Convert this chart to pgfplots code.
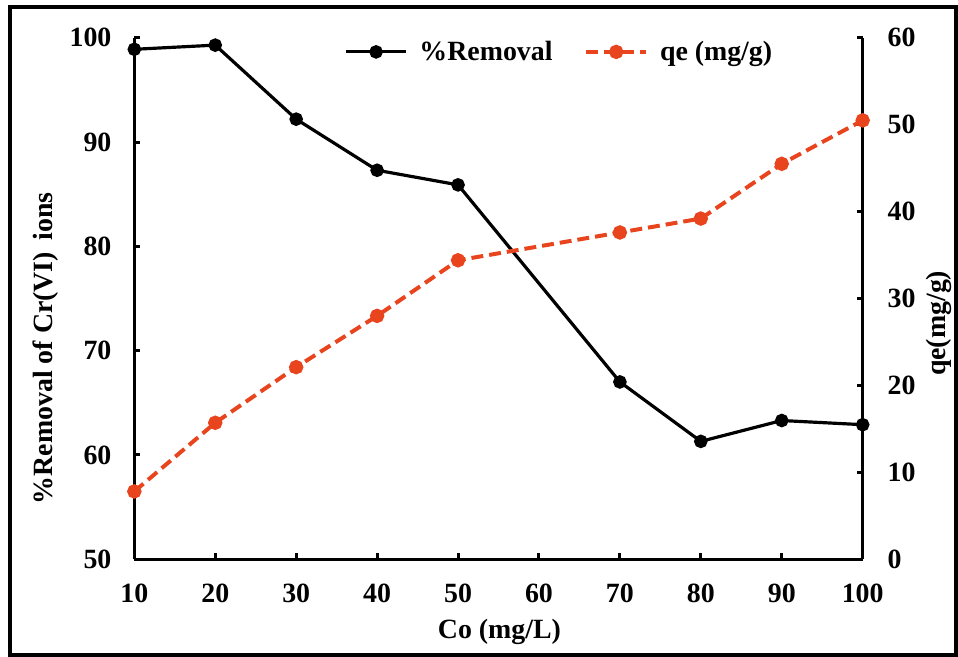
\documentclass[border=0pt]{standalone}
\usepackage{fontspec}
\setmainfont{Liberation Serif}
\usepackage{pgfplots}
\pgfplotsset{compat=1.18}
\definecolor{qecol}{RGB}{232,68,30}
\pgfplotstableread{
x rem
10 98.9
20 99.3
30 92.2
40 87.3
50 85.9
70 67.0
80 61.3
90 63.3
100 62.9
}\remtab
\pgfplotstableread{
x qe
10 7.8
20 15.7
30 22.1
40 28.0
50 34.4
70 37.6
80 39.2
90 45.5
100 50.5
}\qetab
\begin{document}
\begin{tikzpicture}
\pgfplotsset{
  common/.style={
    scale only axis, width=366pt, height=262pt,
    at={(0,0)}, anchor=south west,
    xmin=10, xmax=100,
    clip=false,
    tick align=inside, major tick length=3pt,
    axis line style={line width=1.5pt, -},
    every tick/.style={line width=1.5pt, black},
    tick label style={font=\fontsize{14}{16}\selectfont\bfseries},
    /pgf/number format/assume math mode=true,
  }
}
\begin{axis}[common,
  ymin=50, ymax=100,
  xtick={10,20,...,100}, ytick={50,60,...,100},
  axis y line*=left, axis x line*=bottom,
  xticklabel style={yshift=-9pt},
  yticklabel style={xshift=-8pt},
]
\addplot[black, line width=1.6pt, mark=*, mark size=2.6pt] table[x=x,y=rem] {\remtab};
\end{axis}
\begin{axis}[common,
  ymin=0, ymax=60, ytick={0,10,...,60},
  axis y line*=right, axis x line=none,
  yticklabel style={xshift=9pt},
  legend columns=2,
  legend style={at={(0.585,0.973)}, anchor=center, draw=none, fill=none,
    font=\fontsize{14}{16}\selectfont\bfseries,
    /tikz/every odd column/.append style={column sep=4pt},
    /tikz/every even column/.append style={column sep=14pt}},
  legend image code/.code={\draw[#1, mark repeat=2, mark phase=2] plot coordinates {(0pt,0pt) (15pt,0pt) (30pt,0pt)};},
]
\addlegendimage{black, line width=1.6pt, mark=*, mark size=2.6pt}
\addlegendentry{\%Removal}
\addplot[qecol, line width=2pt, dash pattern=on 6pt off 3pt, mark=*, mark size=2.6pt, mark options={solid}] table[x=x,y=qe] {\qetab};
\addlegendentry{qe (mg/g)}
\end{axis}
\node[font=\fontsize{14}{16}\selectfont\bfseries] at (183.5pt,-36.5pt) {Co (mg/L)};
\node[font=\fontsize{14}{16}\selectfont\bfseries, rotate=90] at (-44.5pt,106pt) {\%Removal of Cr(VI)\, ions};
\node[font=\fontsize{14}{16}\selectfont\bfseries, rotate=90] at (404.5pt,118.5pt) {qe(mg/g)};
\pgfresetboundingbox
\path (-67.5pt,-49pt) rectangle (411.5pt,281pt);
\draw[line width=1.8pt] (-62.5pt,-48pt) rectangle (413pt,277.5pt);
\end{tikzpicture}
\end{document}
